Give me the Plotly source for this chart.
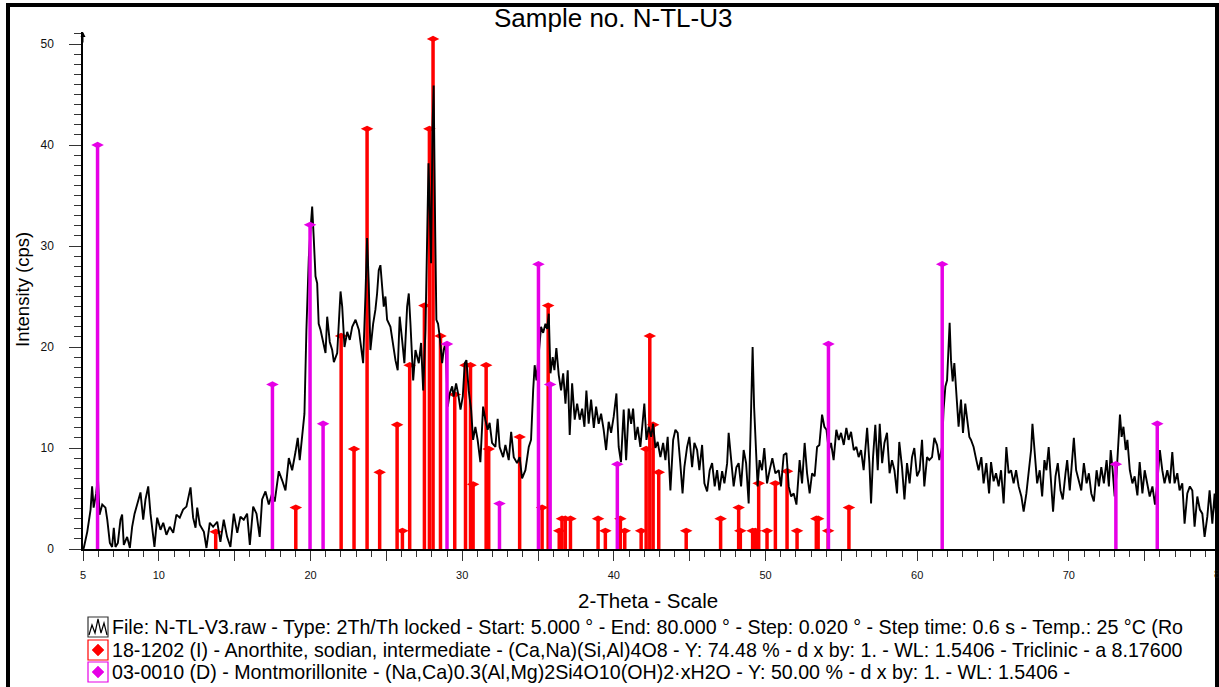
import plotly.graph_objects as go

# ---------------- data ----------------
two_theta = [5.0, 5.05, 5.28, 5.5, 5.6, 5.7, 5.87, 5.98, 6.09, 6.27, 6.48, 6.6, 6.77, 6.92, 7.03, 7.14, 7.3, 7.47,
             7.58, 7.69, 7.91, 8.09, 8.24, 8.4, 8.57, 8.79, 8.97, 9.12, 9.3, 9.45, 9.71, 9.89, 10.11, 10.29, 10.5,
             10.72, 10.95, 11.16, 11.38, 11.6, 11.82, 11.98, 12.09, 12.26, 12.42, 12.53, 12.7, 12.97, 13.14, 13.36,
             13.58, 13.85, 14.06, 14.28, 14.5, 14.72, 14.94, 15.17, 15.38, 15.6, 15.82, 16.0, 16.22, 16.44, 16.65,
             16.81, 17.03, 17.25, 17.47, 17.64, 17.91, 18.13, 18.35, 18.57, 18.79, 19.01, 19.16, 19.29, 19.45, 19.6,
             19.73, 19.89, 20.0, 20.11, 20.21, 20.33, 20.44, 20.54, 20.66, 20.77, 20.87, 20.99, 21.1, 21.27, 21.43,
             21.54, 21.76, 21.98, 22.09, 22.24, 22.42, 22.59, 22.75, 22.97, 23.19, 23.34, 23.47, 23.62, 23.73, 23.84,
             23.95, 24.13, 24.28, 24.39, 24.5, 24.61, 24.72, 24.83, 24.94, 25.05, 25.27, 25.45, 25.6, 25.75, 25.88,
             26.04, 26.19, 26.37, 26.48, 26.59, 26.77, 26.92, 27.14, 27.29, 27.43, 27.58, 27.69, 27.78, 27.87, 27.95,
             28.04, 28.12, 28.22, 28.3, 28.41, 28.52, 28.68, 28.78, 28.9, 29.05, 29.18, 29.34, 29.44, 29.6, 29.73,
             29.89, 30.04, 30.17, 30.28, 30.43, 30.59, 30.72, 30.87, 31.02, 31.2, 31.38, 31.53, 31.68, 31.81, 31.97,
             32.19, 32.34, 32.47, 32.7, 32.85, 33.07, 33.23, 33.4, 33.62, 33.79, 33.95, 34.17, 34.39, 34.54, 34.68,
             34.78, 34.9, 35.05, 35.2, 35.34, 35.49, 35.6, 35.71, 35.82, 35.97, 36.08, 36.21, 36.37, 36.52, 36.66,
             36.81, 36.96, 37.09, 37.25, 37.42, 37.58, 37.75, 37.91, 38.06, 38.19, 38.34, 38.5, 38.68, 38.83, 39.0,
             39.16, 39.33, 39.49, 39.66, 39.82, 39.99, 40.17, 40.32, 40.47, 40.65, 40.81, 40.98, 41.14, 41.27, 41.42,
             41.57, 41.75, 41.9, 42.01, 42.15, 42.3, 42.46, 42.59, 42.74, 42.89, 43.07, 43.25, 43.4, 43.55, 43.73,
             43.91, 44.06, 44.21, 44.38, 44.53, 44.65, 44.83, 44.98, 45.16, 45.31, 45.49, 45.64, 45.82, 45.97, 46.15,
             46.32, 46.48, 46.65, 46.81, 46.96, 47.14, 47.29, 47.47, 47.57, 47.73, 47.9, 48.08, 48.23, 48.39, 48.56,
             48.72, 48.89, 49.02, 49.15, 49.25, 49.35, 49.48, 49.61, 49.77, 49.92, 50.1, 50.27, 50.45, 50.65, 50.87,
             51.02, 51.2, 51.38, 51.53, 51.69, 51.86, 52.04, 52.25, 52.41, 52.58, 52.74, 52.91, 53.07, 53.24, 53.4,
             53.55, 53.73, 53.88, 54.02, 54.17, 54.32, 54.49, 54.67, 54.83, 54.98, 55.16, 55.33, 55.48, 55.64, 55.82,
             55.99, 56.14, 56.3, 56.47, 56.7, 56.85, 56.96, 57.09, 57.24, 57.4, 57.53, 57.69, 57.84, 58.01, 58.18,
             58.34, 58.5, 58.67, 58.82, 59.0, 59.16, 59.33, 59.5, 59.66, 59.81, 59.99, 60.16, 60.32, 60.47, 60.65,
             60.8, 60.98, 61.13, 61.31, 61.46, 61.64, 61.74, 61.86, 61.97, 62.07, 62.14, 62.23, 62.34, 62.45, 62.58,
             62.73, 62.89, 63.02, 63.17, 63.29, 63.44, 63.55, 63.72, 63.9, 64.05, 64.23, 64.38, 64.56, 64.74, 64.87,
             65.04, 65.2, 65.37, 65.53, 65.7, 65.88, 66.03, 66.19, 66.36, 66.52, 66.69, 66.87, 67.02, 67.2, 67.35,
             67.51, 67.6, 67.73, 67.91, 68.08, 68.24, 68.39, 68.52, 68.67, 68.83, 68.96, 69.12, 69.27, 69.45, 69.6,
             69.78, 69.89, 70.06, 70.22, 70.33, 70.48, 70.66, 70.82, 70.99, 71.17, 71.32, 71.48, 71.65, 71.83, 71.98,
             72.14, 72.31, 72.49, 72.64, 72.76, 72.87, 73.02, 73.15, 73.26, 73.37, 73.48, 73.6, 73.75, 73.86, 74.02,
             74.19, 74.34, 74.52, 74.67, 74.85, 75.0, 75.18, 75.33, 75.51, 75.68, 75.83, 76.0, 76.16, 76.31, 76.49,
             76.66, 76.82, 76.97, 77.15, 77.3, 77.48, 77.63, 77.81, 77.98, 78.14, 78.29, 78.47, 78.64, 78.8, 78.95,
             79.13, 79.28, 79.46, 79.61, 79.74]

intensity = [0.0, 0.1, 1.7, 3.9, 6.2, 4.1, 5.5, 7.2, 3.4, 4.4, 4.1, 2.9, 0.6, 0.2, 2.1, 0.2, 0.6, 2.9,
             3.4, 0.4, 1.2, 0.1, 2.2, 3.5, 4.4, 5.6, 2.9, 4.9, 6.2, 3.5, 0.2, 3.1, 1.9, 2.6, 1.4,
             2.2, 1.6, 3.4, 3.1, 3.9, 4.2, 5.3, 6.1, 3.1, 2.1, 4.1, 2.4, 1.7, 0.1, 2.6,
             2.2, 2.7, 0.7, 2.9, 1.2, 0.2, 3.5, 1.6, 3.2, 2.9, 3.5, 0.4, 4.2, 3.5, 1.2,
             4.9, 5.7, 4.4, 5.5, 4.7, 7.7, 6.8, 5.8, 9.0, 7.8, 9.6, 11.0, 8.8, 11.1, 13.4,
             21.7, 28.9, 31.6, 33.9, 30.9, 27.0, 26.3, 22.3, 21.7, 21.0, 20.4, 19.4, 23.0, 20.5, 19.7,
             18.5, 19.4, 25.5, 24.0, 20.0, 21.5, 20.7, 22.0, 22.7, 21.7, 19.7, 18.4, 25.0, 30.8, 26.3,
             19.7, 22.3, 23.7, 25.3, 27.6, 28.1, 25.6, 24.0, 25.0, 22.7, 22.0, 20.0, 18.7, 17.7, 23.0,
             20.7, 18.4, 24.0, 25.3, 22.3, 16.7, 19.7, 18.4, 20.4, 15.7, 21.7, 32.2, 38.2, 33.2, 28.3,
             41.5, 45.9, 31.6, 22.7, 22.3, 21.0, 18.4, 19.7, 20.4, 14.1, 15.4, 16.1, 15.1, 16.4, 15.4,
             13.8, 15.1, 18.4, 18.7, 15.7, 13.8, 10.8, 12.1, 10.8, 8.6, 14.1, 12.8, 11.8, 12.5, 10.5,
             10.1, 12.9, 10.1, 9.1, 10.3, 8.8, 11.6, 9.1, 8.5, 9.1, 7.0, 7.8, 10.1, 10.8, 15.7,
             18.2, 16.7, 19.0, 22.0, 21.4, 22.3, 21.8, 23.3, 17.4, 19.0, 17.7, 19.9, 17.2, 15.7, 17.4,
             14.4, 17.7, 11.3, 16.4, 12.8, 14.4, 12.8, 13.9, 12.1, 15.7, 12.4, 14.8, 12.0, 14.1, 12.4,
             13.4, 11.8, 9.8, 12.6, 11.5, 13.1, 15.4, 10.1, 8.6, 13.8, 8.8, 13.9, 12.4, 13.9, 10.8,
             12.1, 10.1, 12.6, 14.4, 10.8, 12.1, 11.1, 12.4, 10.0, 10.6, 9.1, 10.5, 8.8, 11.1, 5.8,
             10.8, 11.8, 11.5, 8.5, 5.5, 8.1, 10.1, 11.1, 8.1, 10.5, 9.8, 7.8, 10.3, 6.5, 5.7,
             7.8, 8.5, 6.2, 7.8, 5.8, 7.7, 6.5, 8.5, 11.5, 9.1, 6.2, 8.1, 8.5, 6.2, 9.8,
             8.5, 4.5, 12.0, 20.0, 14.0, 10.1, 6.2, 8.8, 7.8, 10.0, 6.5, 7.8, 9.0, 7.5, 7.8,
             6.2, 9.3, 9.5, 6.2, 5.2, 5.5, 4.4, 8.8, 6.5, 10.5, 7.5, 5.5, 7.5, 7.2, 10.1,
             10.3, 13.3, 12.1, 11.8, 9.8, 10.5, 8.8, 11.8, 10.8, 11.5, 10.3, 12.0, 10.8, 11.6, 9.8,
             10.1, 9.1, 9.8, 7.8, 12.0, 8.5, 4.5, 9.1, 12.3, 7.8, 12.4, 8.5, 10.5, 11.5, 7.5,
             8.8, 7.8, 5.5, 10.6, 8.1, 4.9, 8.5, 6.5, 9.1, 10.0, 7.2, 7.8, 10.8, 6.2, 9.1,
             8.8, 9.1, 11.0, 10.3, 8.8, 10.1, 13.8, 16.1, 16.7, 20.0, 22.4, 18.7, 16.6, 18.4, 15.4,
             12.1, 14.8, 11.5, 14.4, 13.1, 11.1, 10.8, 10.1, 8.8, 7.8, 9.1, 6.5, 8.5, 5.5, 8.6,
             6.7, 7.5, 6.2, 7.8, 4.5, 10.1, 7.5, 7.8, 6.5, 7.8, 6.2, 5.2, 3.7, 5.5, 7.5,
             9.8, 12.4, 10.1, 6.5, 7.8, 5.2, 8.8, 7.8, 10.1, 6.5, 3.7, 7.2, 8.5, 5.8, 4.9,
             7.5, 8.8, 5.8, 9.5, 11.0, 7.8, 6.8, 5.8, 8.5, 6.5, 7.5, 5.5, 4.7, 7.8, 6.2,
             8.1, 6.5, 8.8, 6.2, 9.8, 8.1, 5.2, 7.5, 10.8, 13.3, 11.1, 12.1, 9.8, 10.8, 7.8,
             6.5, 7.2, 5.3, 8.6, 5.5, 7.8, 6.5, 5.2, 6.2, 4.4, 6.5, 9.8, 7.8, 6.5, 7.8,
             6.5, 9.6, 6.5, 7.5, 5.8, 6.5, 2.5, 5.5, 6.2, 5.8, 2.2, 5.2, 3.9, 3.5, 1.2,
             3.2, 5.8, 2.5, 5.5, 2.5]

anorthite_2theta = [13.75, 19.03, 22.02, 22.87, 23.73, 24.56, 25.71, 26.06, 26.54, 27.51, 27.84, 28.08, 28.57,
                    29.51, 30.22, 30.55, 30.72, 31.58, 31.75, 33.79, 35.27, 35.67, 36.4, 36.58, 36.8, 37.14,
                    38.96, 39.44, 40.43, 40.72, 41.8, 42.13, 42.37, 42.59, 42.96, 44.77, 47.04, 48.23, 48.34,
                    49.15, 49.33, 49.55, 50.1, 50.65, 51.42, 52.08, 53.35, 53.47, 54.13, 55.5]
anorthite_int = [1.7, 4.1, 21.1, 9.9, 41.6, 7.6, 12.3, 1.8, 18.2, 24.1, 41.6, 50.5, 21.1,
                 15.3, 18.2, 18.2, 6.4, 18.2, 9.9, 11.1, 4.1, 24.1, 1.8, 3.0, 3.0, 3.0,
                 3.0, 1.8, 3.0, 1.8, 1.8, 9.9, 21.1, 12.3, 7.6, 1.8, 3.0, 4.1, 1.8,
                 1.8, 1.8, 6.5, 1.8, 6.5, 7.7, 1.8, 3.0, 3.0, 1.8, 4.1]

montm_2theta = [5.96, 17.49, 19.97, 20.83, 29.0, 32.46, 35.03, 35.8, 40.23, 54.15, 61.65, 73.1, 75.83]
montm_int = [40.0, 16.3, 32.1, 12.4, 20.3, 4.5, 28.2, 16.3, 8.4, 20.3, 28.2, 8.4, 12.4]

x_tickvals = [5, 10, 15, 20, 25, 30, 35, 40, 45, 50, 55, 60, 65, 70, 75]
x_ticktext = ["5", "10", "", "20", "", "30", "", "40", "", "50", "", "60", "", "70", ""]
y_tickvals = [0, 10, 20, 30, 40, 50]

title_text = "Sample no. N-TL-U3"
x_title = "2-Theta - Scale"
y_title = "Intensity (cps)"
legend_texts = [
    "File: N-TL-V3.raw - Type: 2Th/Th locked - Start: 5.000 ° - End: 80.000 ° - Step: 0.020 ° - Step time: 0.6 s - Temp.: 25 °C (Ro",
    "18-1202 (I) - Anorthite, sodian, intermediate - (Ca,Na)(Si,Al)4O8 - Y: 74.48 % - d x by: 1. - WL: 1.5406 - Triclinic - a 8.17600",
    "03-0010 (D) - Montmorillonite - (Na,Ca)0.3(Al,Mg)2Si4O10(OH)2·xH2O - Y: 50.00 % - d x by: 1. - WL: 1.5406 -",
]

# ---------------- layout geometry ----------------
W, H = 1219, 687
L, R, T, B = 83, 0, 32, 138
PW, PH = W - L - R, H - T - B
FONT = "Arial, Liberation Sans, sans-serif"
RED = "#FF0000"
MAG = "#E600E6"


def px(x):
    return (x - L) / PW


def py(y):
    return (H - B - y) / PH


def sticks(xs, ys):
    sx, sy = [], []
    for a, b in zip(xs, ys):
        sx += [a, a, None]
        sy += [0, b, None]
    return sx, sy


fig = go.Figure()

ax_, ay_ = sticks(anorthite_2theta, anorthite_int)
fig.add_trace(go.Scatter(x=ax_, y=ay_, mode="lines", line=dict(color=RED, width=3.5),
                         hoverinfo="skip", showlegend=False))
fig.add_trace(go.Scatter(x=anorthite_2theta, y=anorthite_int, mode="markers",
                         marker=dict(symbol="diamond-wide", size=9, color=RED), showlegend=False))

fig.add_trace(go.Scatter(x=two_theta, y=intensity, mode="lines", line=dict(color="black", width=1.9),
                         showlegend=False))

mx_, my_ = sticks(montm_2theta, montm_int)
fig.add_trace(go.Scatter(x=mx_, y=my_, mode="lines", line=dict(color=MAG, width=3.5),
                         hoverinfo="skip", showlegend=False))
fig.add_trace(go.Scatter(x=montm_2theta, y=montm_int, mode="markers",
                         marker=dict(symbol="diamond-wide", size=9, color=MAG), showlegend=False))

fig.update_layout(
    width=W, height=H,
    margin=dict(l=L, r=R, t=T, b=B),
    paper_bgcolor="white", plot_bgcolor="white",
    font=dict(family=FONT, color="black"),
    showlegend=False,
)

fig.update_xaxes(range=[5, 79.9], showgrid=False, zeroline=False,
                 showline=True, linecolor="black", linewidth=1.5,
                 ticks="outside", ticklen=10, tickwidth=1.2, tickcolor="#333",
                 tickvals=x_tickvals, ticktext=x_ticktext,
                 tickfont=dict(family=FONT, size=11, color="#111"),
                 ticklabelstandoff=5,
                 minor=dict(ticks="outside", ticklen=6, tickwidth=1, tickcolor="#333", dtick=1, tick0=5,
                            showgrid=False))
fig.update_yaxes(range=[0, 51.19], showgrid=False, zeroline=False,
                 showline=True, linecolor="black", linewidth=1.5,
                 ticks="outside", ticklen=12, tickwidth=1.2, tickcolor="#333",
                 tickvals=y_tickvals,
                 tickfont=dict(family=FONT, size=12, color="#111"),
                 ticklabelstandoff=13,
                 minor=dict(ticks="outside", ticklen=7, tickwidth=1, tickcolor="#333", dtick=1, tick0=0,
                            showgrid=False))

ann = []
ann.append(dict(text=title_text, x=px(613), y=py(18), xref="paper", yref="paper",
                showarrow=False, xanchor="center", yanchor="middle",
                font=dict(family=FONT, size=26, color="black")))
ann.append(dict(text=x_title, x=px(648), y=py(600), xref="paper", yref="paper",
                showarrow=False, xanchor="center", yanchor="middle",
                font=dict(family=FONT, size=20.5, color="black")))
ann.append(dict(text=y_title, x=px(22), y=py(290), xref="paper", yref="paper", textangle=-90,
                showarrow=False, xanchor="center", yanchor="middle",
                font=dict(family=FONT, size=18.5, color="black")))
ann.append(dict(text="80", x=px(1220), y=py(574), xref="paper", yref="paper",
                showarrow=False, xanchor="center", yanchor="middle",
                font=dict(family=FONT, size=11, color="#111")))
# arrow head on top of y axis
ann.append(dict(x=5, y=51.19, xref="x", yref="y", ax=0, ay=12, showarrow=True,
                arrowhead=2, arrowsize=1, arrowwidth=1, arrowcolor="black", text=""))
rows_y = [627, 650, 672]
for t, yy in zip(legend_texts, rows_y):
    ann.append(dict(text=t, x=px(110), y=py(yy), xref="paper", yref="paper",
                    showarrow=False, xanchor="left", yanchor="middle",
                    font=dict(family=FONT, size=19.65, color="black")))
fig.update_layout(annotations=ann)

shapes = []
# outer frame
shapes.append(dict(type="rect", xref="paper", yref="paper", x0=px(8), x1=px(1217), y0=py(720), y1=py(5),
                   line=dict(color="black", width=4), fillcolor="rgba(0,0,0,0)", layer="above"))
# legend icon boxes
box_cols = ["#333", RED, MAG]
for c, yy in zip(box_cols, rows_y):
    shapes.append(dict(type="rect", xref="paper", yref="paper", x0=px(88), x1=px(108),
                       y0=py(yy + 10), y1=py(yy - 10), line=dict(color=c, width=1.2)))
# zigzag glyph in first box
zz = [(89, 635), (92, 625), (95, 633), (98, 619), (101, 633), (104, 623), (107, 635)]
path = "M " + " L ".join(f"{px(a)},{py(b)}" for a, b in zz)
shapes.append(dict(type="path", xref="paper", yref="paper", path=path, line=dict(color="black", width=1.2)))
# diamonds in boxes 2 and 3
for c, yy in zip([RED, MAG], rows_y[1:]):
    cx = 98
    d = f"M {px(cx)},{py(yy-6)} L {px(cx+6)},{py(yy)} L {px(cx)},{py(yy+6)} L {px(cx-6)},{py(yy)} Z"
    shapes.append(dict(type="path", xref="paper", yref="paper", path=d, fillcolor=c,
                       line=dict(color=c, width=0.5)))
fig.update_layout(shapes=shapes)

fig.write_html("out.html")
